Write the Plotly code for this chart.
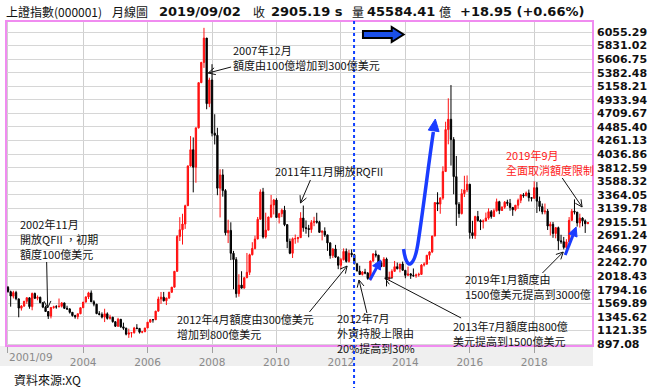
import math
import numpy as np
import pandas as pd
import plotly.graph_objects as go

# ---------------- data (monthly OHLC, 上證指數) ----------------
months = [d.strftime("%Y/%m") for d in pd.date_range("2001-09-01", periods=217, freq="MS")]

opens = [
    1834, 1762, 1688, 1748,
    1643, 1490, 1525, 1603, 1660, 1515, 1732, 1652, 1669, 1580, 1506, 1434,
    1358, 1500, 1512, 1510, 1521, 1576, 1487, 1476, 1421, 1367, 1349, 1397,
    1497, 1590, 1675, 1742, 1595, 1555, 1399, 1386, 1342, 1396, 1320, 1340,
    1266, 1191, 1306, 1181, 1159, 1060, 1080, 1083, 1162, 1155, 1092, 1099,
    1163, 1258, 1299, 1298, 1440, 1641, 1672, 1612, 1658, 1752, 1837, 2099,
    2675, 2786, 2881, 3183, 3841, 4109, 3820, 4471, 5218, 5552, 5955, 4871,
    5262, 4383, 4348, 3473, 3693, 3433, 2736, 2775, 2397, 2293, 1729, 1871,
    1821, 1991, 2082, 2373, 2477, 2632, 2959, 3412, 2667, 2779, 2996, 3195,
    3277, 2989, 3051, 3110, 2870, 2592, 2398, 2638, 2639, 2655, 2979, 2820,
    2808, 2790, 2905, 2928, 2911, 2743, 2762, 2701, 2568, 2359, 2468, 2333,
    2199, 2292, 2428, 2263, 2397, 2373, 2225, 2103, 2047, 2086, 2069, 1980,
    2269, 2385, 2366, 2237, 2178, 2301, 1979, 1994, 2098, 2175, 2142, 2220,
    2116, 2033, 2056, 2033, 2026, 2039, 2048, 2202, 2217, 2364, 2420, 2683,
    3235, 3210, 3310, 3748, 4442, 4612, 4277, 3664, 3206, 3053, 3383, 3445,
    3539, 2738, 2688, 3004, 2938, 2917, 2930, 2979, 3085, 3005, 3100, 3250,
    3104, 3159, 3242, 3223, 3155, 3117, 3192, 3273, 3361, 3349, 3393, 3317,
    3307, 3481, 3259, 3169, 3082, 3095, 2847, 2876, 2725, 2821, 2603, 2588,
    2494, 2585, 2941, 3091, 3078, 2899, 2979, 2933, 2886,
]
highs = [
    1855, 1780, 1777, 1776,
    1650, 1540, 1610, 1671, 1670, 1748, 1748, 1700, 1680, 1590, 1530, 1440,
    1510, 1530, 1540, 1649, 1590, 1580, 1530, 1490, 1425, 1380, 1400, 1500,
    1590, 1685, 1760, 1783, 1620, 1560, 1440, 1420, 1480, 1420, 1380, 1345,
    1270, 1330, 1310, 1250, 1165, 1150, 1095, 1180, 1225, 1160, 1110, 1165,
    1260, 1310, 1310, 1445, 1680, 1757, 1758, 1660, 1760, 1840, 2100, 2698,
    2994, 3050, 3200, 3850, 4335, 4312, 4472, 5219, 5562, 6124, 5956, 5300,
    5523, 4696, 4472, 3786, 3786, 3458, 2952, 2909, 2437, 2333, 2050, 2100,
    2005, 2402, 2390, 2580, 2688, 2997, 3454, 3478, 3068, 3003, 3361, 3295,
    3307, 3065, 3135, 3181, 2880, 2640, 2658, 2707, 2670, 3076, 3186, 2940,
    2867, 2946, 3000, 3067, 2934, 2775, 2826, 2703, 2580, 2478, 2536, 2345,
    2320, 2478, 2476, 2454, 2461, 2388, 2226, 2191, 2102, 2140, 2087, 2276,
    2400, 2444, 2370, 2270, 2334, 2326, 2093, 2132, 2270, 2243, 2220, 2260,
    2120, 2177, 2068, 2146, 2061, 2076, 2218, 2248, 2370, 2430, 2684, 3239,
    3406, 3325, 3835, 4572, 4959, 5178, 4317, 4006, 3243, 3459, 3678, 3684,
    3539, 2934, 3018, 3097, 2958, 2956, 3070, 3140, 3113, 3134, 3301, 3265,
    3174, 3261, 3283, 3295, 3157, 3194, 3301, 3374, 3392, 3418, 3450, 3323,
    3587, 3574, 3334, 3220, 3219, 3128, 2916, 2915, 2827, 2838, 2703, 2667,
    2630, 2996, 3129, 3288, 3078, 3052, 2992, 2956, 2910,
]
lows = [
    1745, 1514, 1650, 1620,
    1339, 1450, 1510, 1560, 1480, 1455, 1640, 1620, 1570, 1490, 1426, 1311,
    1320, 1480, 1480, 1505, 1500, 1475, 1460, 1400, 1350, 1316, 1307, 1390,
    1495, 1585, 1640, 1590, 1520, 1390, 1370, 1320, 1260, 1300, 1300, 1250,
    1178, 1180, 1165, 1130, 1040, 998, 1004, 1070, 1140, 1070, 1075, 1095,
    1160, 1255, 1250, 1295, 1435, 1560, 1600, 1541, 1640, 1745, 1830, 2090,
    2600, 2541, 2800, 3180, 3830, 3404, 3563, 4460, 5210, 5462, 4778, 4812,
    4330, 4196, 3357, 2990, 3333, 2693, 2566, 2284, 1802, 1664, 1679, 1814,
    1814, 1991, 2037, 2362, 2461, 2630, 2959, 2639, 2640, 2779, 2978, 3039,
    2986, 2890, 2995, 2845, 2481, 2382, 2319, 2555, 2573, 2655, 2753, 2721,
    2661, 2735, 2845, 2887, 2734, 2610, 2668, 2437, 2307, 2319, 2324, 2134,
    2132, 2277, 2242, 2243, 2332, 2213, 2101, 2040, 2029, 2050, 1959, 1949,
    2255, 2328, 2221, 2167, 2175, 1849, 1951, 1993, 2093, 2130, 2082, 2113,
    1984, 2025, 1974, 2008, 1991, 2010, 2041, 2178, 2215, 2292, 2400, 2676,
    3095, 3050, 3282, 3748, 4198, 3847, 3373, 2850, 2983, 3039, 3327, 3408,
    2638, 2638, 2634, 2921, 2781, 2807, 2930, 2953, 2969, 3002, 3086, 3044,
    3098, 3132, 3180, 3101, 3016, 3092, 3133, 3226, 3315, 3340, 3254, 3254,
    3300, 3063, 3091, 3041, 3041, 2782, 2691, 2653, 2644, 2449, 2553, 2462,
    2440, 2585, 2934, 3039, 2838, 2822, 2844, 2733, 2880,
]
closes = [
    1764, 1690, 1747, 1646,
    1491, 1525, 1603, 1661, 1515, 1732, 1653, 1669, 1581, 1507, 1434, 1358,
    1500, 1512, 1510, 1521, 1576, 1487, 1476, 1421, 1367, 1349, 1397, 1497,
    1590, 1675, 1742, 1595, 1555, 1399, 1386, 1342, 1396, 1320, 1340, 1266,
    1191, 1306, 1181, 1159, 1060, 1080, 1083, 1162, 1155, 1092, 1099, 1161,
    1258, 1299, 1298, 1440, 1641, 1672, 1612, 1658, 1752, 1837, 2099, 2675,
    2786, 2881, 3183, 3841, 4109, 3820, 4471, 5218, 5552, 5955, 4871, 5262,
    4383, 4348, 3473, 3693, 3433, 2736, 2775, 2397, 2293, 1729, 1871, 1821,
    1991, 2082, 2373, 2477, 2632, 2959, 3412, 2667, 2779, 2996, 3195, 3277,
    2989, 3051, 3110, 2870, 2592, 2398, 2638, 2639, 2655, 2979, 2820, 2808,
    2790, 2905, 2928, 2911, 2743, 2762, 2701, 2568, 2359, 2468, 2333, 2199,
    2292, 2428, 2263, 2397, 2373, 2225, 2103, 2047, 2086, 2069, 1980, 2269,
    2385, 2366, 2237, 2178, 2301, 1979, 1994, 2098, 2175, 2142, 2220, 2116,
    2033, 2056, 2033, 2026, 2039, 2048, 2202, 2217, 2364, 2420, 2683, 3235,
    3210, 3310, 3748, 4442, 4612, 4277, 3664, 3206, 3053, 3383, 3445, 3539,
    2738, 2688, 3004, 2938, 2917, 2930, 2979, 3085, 3005, 3100, 3250, 3104,
    3159, 3242, 3223, 3155, 3117, 3192, 3273, 3361, 3349, 3393, 3317, 3307,
    3481, 3259, 3169, 3082, 3095, 2847, 2876, 2725, 2821, 2603, 2588, 2494,
    2585, 2941, 3091, 3078, 2899, 2979, 2933, 2886, 2905,
]
assert len(opens) == len(highs) == len(lows) == len(closes) == len(months)

y_ticks = [6055.29, 5831.02, 5606.75, 5382.48, 5158.21, 4933.94, 4709.67, 4485.40,
           4261.13, 4036.86, 3812.59, 3588.32, 3364.05, 3139.78, 2915.51, 2691.24,
           2466.97, 2242.70, 2018.43, 1794.16, 1569.89, 1345.62, 1121.35, 897.08]
x_tick_months = ["2001/09", "2004/01", "2006/01", "2008/01", "2010/01", "2012/01",
                 "2014/01", "2016/01", "2018/01"]
x_tick_labels = ["", "2004", "2006", "2008", "2010", "2012", "2014", "2016", "2018"]

# ---------------- layout geometry (pixels) ----------------
W, H = 653, 388
L, R, T, B = 6, 598, 21, 346

def px(x):
    return (x - L) / (R - L)

def py(y):
    return (B - y) / (B - T)

xpos = np.arange(len(months))
x_range = [-0.74, 217.9]
y_range = [864.0, 6237.2]

fig = go.Figure()
fig.add_trace(go.Candlestick(
    x=xpos, open=opens, high=highs, low=lows, close=closes,
    increasing=dict(line=dict(color="#ff1010", width=1), fillcolor="#ff1010"),
    decreasing=dict(line=dict(color="#000000", width=1), fillcolor="#000000"),
    whiskerwidth=0, hoverinfo="skip", showlegend=False,
))

shapes = []
# grey x-axis strip
shapes.append(dict(type="rect", xref="paper", yref="paper", x0=px(0), x1=px(598),
                   y0=py(366), y1=py(346), fillcolor="#efefef", line=dict(width=0), layer="below"))
# pink frame
shapes.append(dict(type="rect", xref="paper", yref="paper", x0=0, x1=1, y0=0, y1=1,
                   line=dict(color="#f08cf0", width=2), layer="above"))
# blue dotted vertical line (2012/07)
shapes.append(dict(type="line", xref="x", yref="paper", x0=128.9, x1=128.9, y0=1, y1=py(388),
                   line=dict(color="#1040ff", width=2, dash="dot"), layer="above"))

def P(x, y):
    return f"{px(x):.5f},{py(y):.5f}"

# block arrow
blk = [(366, 31), (395, 31), (395, 27), (407, 34.5), (395, 42), (395, 38), (366, 38)]
shapes.append(dict(type="path", xref="paper", yref="paper",
                   path="M" + " L".join(P(a, b) for a, b in blk) + " Z",
                   fillcolor="#1a4fe8", line=dict(color="#000000", width=2), layer="above"))

def head(tx, ty, fx, fy, hl, hw):
    dx, dy = tx - fx, ty - fy
    n = math.hypot(dx, dy)
    ux, uy = dx / n, dy / n
    bx, by = tx - hl * ux, ty - hl * uy
    p1 = (bx - hw * uy, by + hw * ux)
    p2 = (bx + hw * uy, by - hw * ux)
    return p1, p2, (bx, by)

BLUE = "#1a3cff"
# big blue curved arrow
shapes.append(dict(type="path", xref="paper", yref="paper",
                   path=f"M{P(407,249)} C{P(410,272)} {P(418,268)} {P(422,240)} C{P(428,200)} {P(432,165)} {P(437,132)}",
                   line=dict(color=BLUE, width=3.5), layer="above"))
p1, p2, _ = head(439, 119, 436, 140, 12, 5.5)
shapes.append(dict(type="path", xref="paper", yref="paper",
                   path=f"M{P(439,119)} L{P(*p1)} L{P(*p2)} Z",
                   fillcolor=BLUE, line=dict(color=BLUE, width=1), layer="above"))
# small blue arrows
for (x0, y0, x1, y1) in [(373, 280, 384, 260), (570, 255, 581, 227)]:
    p1, p2, b = head(x1, y1, x0, y0, 9, 4.5)
    shapes.append(dict(type="path", xref="paper", yref="paper",
                       path=f"M{P(x0,y0)} L{P(*b)}", line=dict(color=BLUE, width=3), layer="above"))
    shapes.append(dict(type="path", xref="paper", yref="paper",
                       path=f"M{P(x1,y1)} L{P(*p1)} L{P(*p2)} Z",
                       fillcolor=BLUE, line=dict(color=BLUE, width=1), layer="above"))

# thin black pointer arrows (tail -> head)
black_arrows = [
    (233, 67, 210, 73),
    (313, 180, 303, 203),
    (47, 262, 48, 308),
    (312, 312, 350, 266),
    (370, 313, 362, 280),
    (465, 318, 388, 278),
    (547, 273, 568, 252),
    (567, 178, 587, 207),
]
for (x0, y0, x1, y1) in black_arrows:
    p1, p2, _ = head(x1, y1, x0, y0, 7, 3.5)
    shapes.append(dict(type="path", xref="paper", yref="paper",
                       path=f"M{P(x0,y0)} L{P(x1,y1)} M{P(*p1)} L{P(x1,y1)} L{P(*p2)}",
                       line=dict(color="#111111", width=1), layer="above"))

CJK = "Noto Sans CJK TC"
ann = []

def text(x, y, s, size=11, color="#111111", family=CJK, weight="normal", xanchor="left"):
    ann.append(dict(xref="paper", yref="paper", x=px(x), y=py(y), text=s, showarrow=False,
                    xanchor=xanchor, yanchor="middle", align="left",
                    font=dict(family=family, size=size, color=color, weight=weight)))

def lines(x, y0, items, step=15.0, **kw):
    for i, s in enumerate(items):
        text(x, y0 + i * step, s, **kw)

# header
ty = 11
text(4, ty, "上證指數(000001)", size=12)
text(111, ty, "月線圖", size=12)
text(158, ty, "2019/09/02", size=13, family="DejaVu Sans", weight="bold")
text(253, ty, "收", size=12)
text(271, ty, "2905.19 s", size=13, family="DejaVu Sans", weight="bold")
text(353, ty, "量", size=12)
text(368, ty, "45584.41", size=13, family="DejaVu Sans", weight="bold")
text(441, ty, "億", size=12)
text(462, ty, "+18.95 (+0.66%)", size=13, family="DejaVu Sans", weight="bold")

# notes
lines(233, 50, ["2007年12月", "額度由100億增加到300億美元"])
text(275, 171, "2011年11月開放RQFII")
lines(18, 224, ["2002年11月", "開放QFII ，初期", "額度100億美元"])
lines(176, 319, ["2012年4月額度由300億美元", "增加到800億美元"])
lines(338, 318, ["2012年7月", "外資持股上限由", "20%提高到30%"])
lines(455, 326, ["2013年7月額度由800億", "美元提高到1500億美元"])
lines(467, 279, ["2019年1月額度由", "1500億美元提高到3000億"])
lines(508, 155, ["2019年9月", "全面取消額度限制"], color="#ff1a1a")

# x label 2001/09 (left aligned) and source
text(7, 357, "2001/09", size=10.5, color="#8a8a8a", family="DejaVu Sans")
text(12, 379, "資料來源:XQ", size=12)

fig.update_layout(
    width=W, height=H,
    margin=dict(l=L, r=W - R, t=T, b=H - B, pad=0),
    paper_bgcolor="#ffffff", plot_bgcolor="#ffffff",
    shapes=shapes, annotations=ann,
    showlegend=False, hovermode=False,
    xaxis=dict(range=x_range, rangeslider=dict(visible=False),
               tickmode="array", tickvals=[months.index(m) for m in x_tick_months],
               ticktext=x_tick_labels, ticks="outside", ticklen=6, tickcolor="#a0a0a0",
               showgrid=True, gridcolor="#cfcfcf", gridwidth=1, zeroline=False,
               showline=False, tickfont=dict(family="DejaVu Sans", size=10.5, color="#8a8a8a")),
    yaxis=dict(range=y_range, side="right", tickmode="array", tickvals=y_ticks,
               ticktext=[f"{v:.2f}" for v in y_ticks], ticks="", showgrid=True,
               ticklabelstandoff=3,
               gridcolor="#d6d6d6", gridwidth=1, zeroline=False, showline=False,
               tickfont=dict(family="DejaVu Sans", size=11, color="#111111", weight="bold")),
)

fig.write_html("out.html")
